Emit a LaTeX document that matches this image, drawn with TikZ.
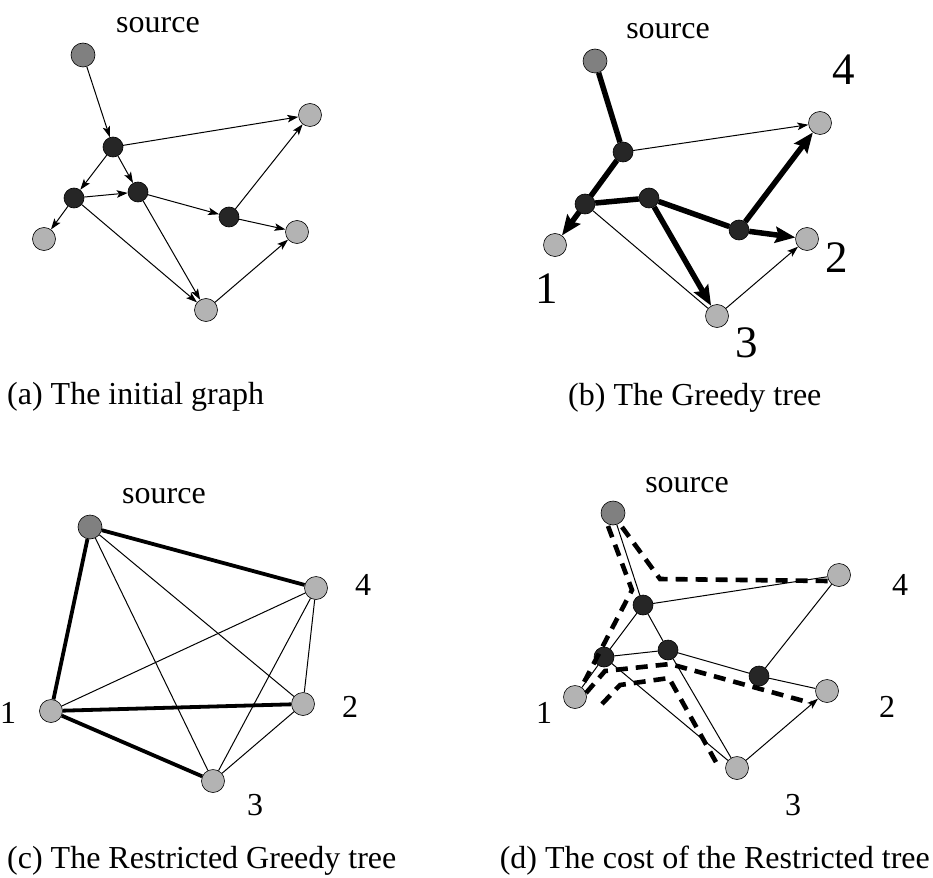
\documentclass[tikz,border=0pt]{standalone}
\usepackage{fontspec}
\setmainfont{Liberation Serif}
\usetikzlibrary{arrows.meta}
\pgfdeclarelayer{bg}
\pgfsetlayers{bg,main}
\definecolor{srcgray}{HTML}{808080}
\definecolor{nodedark}{HTML}{262626}
\definecolor{nodelight}{HTML}{B3B3B3}
\begin{document}
\begin{tikzpicture}[x=1pt,y=-1pt,
  vsrc/.style={circle,draw,line width=0.6pt,fill=srcgray,minimum size=24pt,inner sep=0pt},
  vdark/.style={circle,draw,line width=0.6pt,fill=nodedark,minimum size=20pt,inner sep=0pt},
  vlight/.style={circle,draw,line width=0.6pt,fill=nodelight,minimum size=23pt,inner sep=0pt},
  txt/.style={font=\fontsize{32}{38}\selectfont,inner sep=0pt,anchor=base},
  bignum/.style={font=\fontsize{45}{50}\selectfont,inner sep=0pt,anchor=base},
  thinarr/.style={line width=1pt,-{Stealth[length=11pt,width=7.5pt,inset=2.5pt]}},
  thinln/.style={line width=1pt},
  thickarr/.style={line width=5.5pt,-{Stealth[length=20pt,width=16pt,inset=3pt]}},
  thickln/.style={line width=5.5pt},
  medln/.style={line width=3.8pt},
  dashln/.style={line width=4.6pt,dash pattern=on 12pt off 8pt},
]
\useasboundingbox (0,0) rectangle (933,877);

% ---------------- (a) ----------------
\node[txt] (asrct) at (158,33) {source};
\node[vsrc]   (as)  at (83,55) {};
\node[vdark]  (aA)  at (113,147) {};
\node[vdark]  (aB)  at (74,198) {};
\node[vdark]  (aC)  at (138,192) {};
\node[vdark]  (aD)  at (229,217) {};
\node[vlight] (a1)  at (44,239) {};
\node[vlight] (a4)  at (310,115) {};
\node[vlight] (a2)  at (297,232) {};
\node[vlight] (a3)  at (206,310) {};
\begin{pgfonlayer}{bg}
\draw[thinarr] (as) -- (aA);
\draw[thinarr] (aA) -- (a4);
\draw[thinarr] (aA) -- (aB);
\draw[thinarr] (aA) -- (aC);
\draw[thinarr] (aB) -- (a1);
\draw[thinarr] (aB) -- (aC);
\draw[thinarr] (aB) -- (a3);
\draw[thinarr] (aC) -- (a3);
\draw[thinarr] (aC) -- (aD);
\draw[thinarr] (aD) -- (a4);
\draw[thinarr] (aD) -- (a2);
\draw[thinarr] (a3) -- (a2);
\end{pgfonlayer}
\node[txt,anchor=base west] (capa) at (7,404) {(a) The initial graph};

% ---------------- (b) ----------------
\node[txt] (bsrct) at (668,39) {source};
\node[vsrc]   (bs)  at (595,61) {};
\node[vdark]  (bA)  at (623,152) {};
\node[vdark]  (bB)  at (585,204) {};
\node[vdark]  (bC)  at (649,198) {};
\node[vdark]  (bD)  at (739,230) {};
\node[vlight] (b1)  at (555,245) {};
\node[vlight] (b4)  at (820,123) {};
\node[vlight] (b2)  at (807,239) {};
\node[vlight] (b3)  at (717,316) {};
\node[bignum] (bn4) at (844,85) {4};
\node[bignum] (bn2) at (837,272) {2};
\node[bignum] (bn1) at (547,303) {1};
\node[bignum] (bn3) at (747,357) {3};
\begin{pgfonlayer}{bg}
\draw[thinarr] (bA) -- (b4);
\draw[thinln]  (bB) -- (b3);
\draw[thinarr] (b3) -- (b2);
\draw[thickln]  (bs) -- (bA);
\draw[thickarr] (bA) -- (b1);
\draw[thickln]  (bB) -- (bC);
\draw[thickarr] (bC) -- (b3);
\draw[thickln]  (bC) -- (bD);
\draw[thickarr] (bD) -- (b2);
\draw[thickarr] (bD) -- (b4);
\end{pgfonlayer}
\node[txt,anchor=base west] (capb) at (568,405) {(b) The Greedy tree};

% ---------------- (c) ----------------
\node[txt] (csrct) at (164,503) {source};
\node[vsrc]   (cs)  at (90,527) {};
\node[vlight] (c4)  at (316,588) {};
\node[vlight] (c2)  at (303,704) {};
\node[vlight] (c1)  at (51,711) {};
\node[vlight] (c3)  at (213,781) {};
\node[txt] (cn4) at (363,595) {4};
\node[txt] (cn2) at (350,717) {2};
\node[txt] (cn1) at (8,723) {1};
\node[txt] (cn3) at (255,815) {3};
\begin{pgfonlayer}{bg}
\draw[thinln] (cs) -- (c3);
\draw[thinln] (cs) -- (c2);
\draw[thinln] (c1) -- (c4);
\draw[thinln] (c4) -- (c3);
\draw[thinln] (c4) -- (c2);
\draw[thinln] (c2) -- (c3);
\draw[medln] (cs) -- (c1);
\draw[medln] (cs) -- (c4);
\draw[medln] (c1) -- (c2);
\draw[medln] (c1) -- (c3);
\end{pgfonlayer}
\node[txt,anchor=base west] (capc) at (7,868) {(c) The Restricted Greedy tree};

% ---------------- (d) ----------------
\node[txt] (dsrct) at (687,492) {source};
\node[vsrc]   (ds)  at (613,513) {};
\node[vdark]  (dA)  at (643,605) {};
\node[vdark]  (dB)  at (604,657) {};
\node[vdark]  (dC)  at (668,650) {};
\node[vdark]  (dD)  at (759,676) {};
\node[vlight] (d4)  at (839,575) {};
\node[vlight] (d2)  at (827,691) {};
\node[vlight] (d1)  at (575,697) {};
\node[vlight] (d3)  at (737,768) {};
\node[txt] (dn4) at (900,595) {4};
\node[txt] (dn2) at (887,717) {2};
\node[txt] (dn1) at (544,723) {1};
\node[txt] (dn3) at (793,815) {3};
\begin{pgfonlayer}{bg}
\draw[thinln] (ds) -- (dA);
\draw[thinln] (dA) -- (d4);
\draw[thinln] (dA) -- (dB);
\draw[thinln] (dB) -- (d1);
\draw[thinln] (dA) -- (dC);
\draw[thinln] (dC) -- (d3);
\draw[thinln] (dB) -- (dC);
\draw[thinln] (dB) -- (d3);
\draw[thinln] (dC) -- (dD);
\draw[thinln] (dD) -- (d2);
\draw[thinln] (dD) -- (d4);
\draw[thinarr] (d3) -- (d2);
\end{pgfonlayer}
\coordinate (p1a) at (622,527);
\coordinate (p1b) at (660,579);
\coordinate (p1c) at (829,581);
\coordinate (p2a) at (608,526);
\coordinate (p2b) at (632,590);
\coordinate (p2c) at (581,688);
\coordinate (p3a) at (586,693);
\coordinate (p3b) at (605,671);
\coordinate (p3c) at (670,664);
\coordinate (p3d) at (811,703);
\coordinate (p4a) at (602,704);
\coordinate (p4b) at (620,685);
\coordinate (p4c) at (669,678);
\coordinate (p4d) at (717,764);
\draw[dashln] (p1a) -- (p1b) -- (p1c);
\draw[dashln] (p2a) -- (p2b) -- (p2c);
\draw[dashln] (p3a) -- (p3b) -- (p3c) -- (p3d);
\draw[dashln] (p4a) -- (p4b) -- (p4c) -- (p4d);
\node[txt,anchor=base east] (capd) at (930,868) {(d) The cost of the Restricted tree};
\end{tikzpicture}
\end{document}
